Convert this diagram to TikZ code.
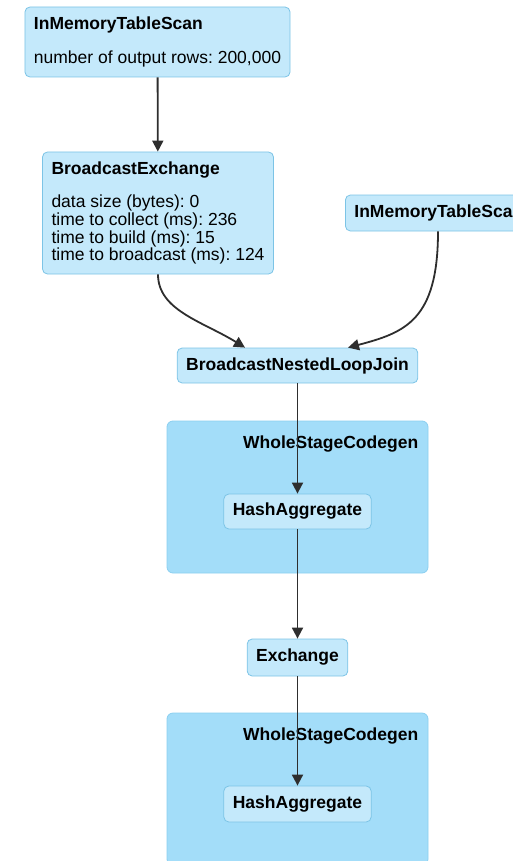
\documentclass[tikz,border=0pt]{standalone}
\usepackage{fontspec}
\setmainfont{Liberation Sans}
\usetikzlibrary{shapes, arrows.meta, positioning, calc}

\definecolor{nodefill}{HTML}{C4E9FB}
\definecolor{nodeline}{HTML}{7CC4E6}
\definecolor{clusterfill}{HTML}{A3DDF9}
\definecolor{clusterline}{HTML}{8BCFF0}
\definecolor{edgecol}{HTML}{2E2E2E}

\frenchspacing

\begin{document}
\begin{tikzpicture}[x=1pt, y=-1pt,
        every node/.style={font=\fontsize{17.5}{17.7}\selectfont},
        opnode/.style={draw=nodeline, fill=nodefill, rounded corners=5pt, line width=0.8pt, align=left, inner xsep=9pt},
        cluster/.style={draw=clusterline, fill=clusterfill, rounded corners=6pt, line width=0.8pt},
        clustertitle/.style={inner sep=0pt, font=\fontsize{17.5}{17.7}\selectfont\bfseries},
        flow/.style={-{Triangle[length=11pt, width=11pt]}, line width=1.8pt, draw=edgecol}]

        \useasboundingbox (0,0) rectangle (513,861);
        \clip (0,0) rectangle (513,861);

        % ------------------ Codegen stages ------------------

        \node[cluster, minimum width=261pt, minimum height=152pt] (wsc1) at (297.5,497) {};
        \node[clustertitle, below left=15pt and 10pt of wsc1.north east] (wsc1title) {WholeStageCodegen};

        \node[cluster, minimum width=261pt, minimum height=152pt] (wsc2) at (297.5,789) {};
        \node[clustertitle, below left=15pt and 10pt of wsc2.north east] (wsc2title) {WholeStageCodegen};

        % ------------------ Operators ------------------

        % Scans
        \node[opnode, minimum width=265pt, minimum height=70pt] (scan1) at (157.5,42) {\textbf{InMemoryTableScan}\\[16pt]number of output rows: 200,000};
        \node[opnode, minimum height=36pt, anchor=west] (scan2) at (345,213) {\textbf{InMemoryTableScan}};

        % Broadcast
        \node[opnode, minimum width=228pt, minimum height=122pt] (bcast) at (158,213) {\textbf{BroadcastExchange}\\[16pt]data size (bytes): 0\\time to collect (ms): 236\\time to build (ms): 15\\time to broadcast (ms): 124};

        % Join
        \node[opnode, minimum width=237pt, minimum height=35pt] (join) at (297.5,365.5) {\textbf{BroadcastNestedLoopJoin}};

        % Aggregates and shuffle
        \node[opnode, minimum width=143pt, minimum height=35pt] (agg1) at (297.5,511.5) {\textbf{HashAggregate}};
        \node[opnode, minimum width=97pt, minimum height=37pt] (exch) at (297.5,657.5) {\textbf{Exchange}};
        \node[opnode, minimum width=143pt, minimum height=36pt] (agg2) at (297.5,804) {\textbf{HashAggregate}};

        % Arrows
        \draw[flow] (scan1) -- (bcast);
        \draw[flow] (bcast.south) .. controls +(0,36) and +(-42,-26) .. ([xshift=-52.5pt]join.north);
        \draw[flow] (scan2.south -| 438,0) .. controls +(0,89) and +(57,-15) .. ([xshift=50.5pt]join.north);
        \draw[flow] (join) -- (agg1);
        \draw[flow] (agg1) -- (exch);
        \draw[flow] (exch) -- (agg2);

    \end{tikzpicture}
\end{document}
